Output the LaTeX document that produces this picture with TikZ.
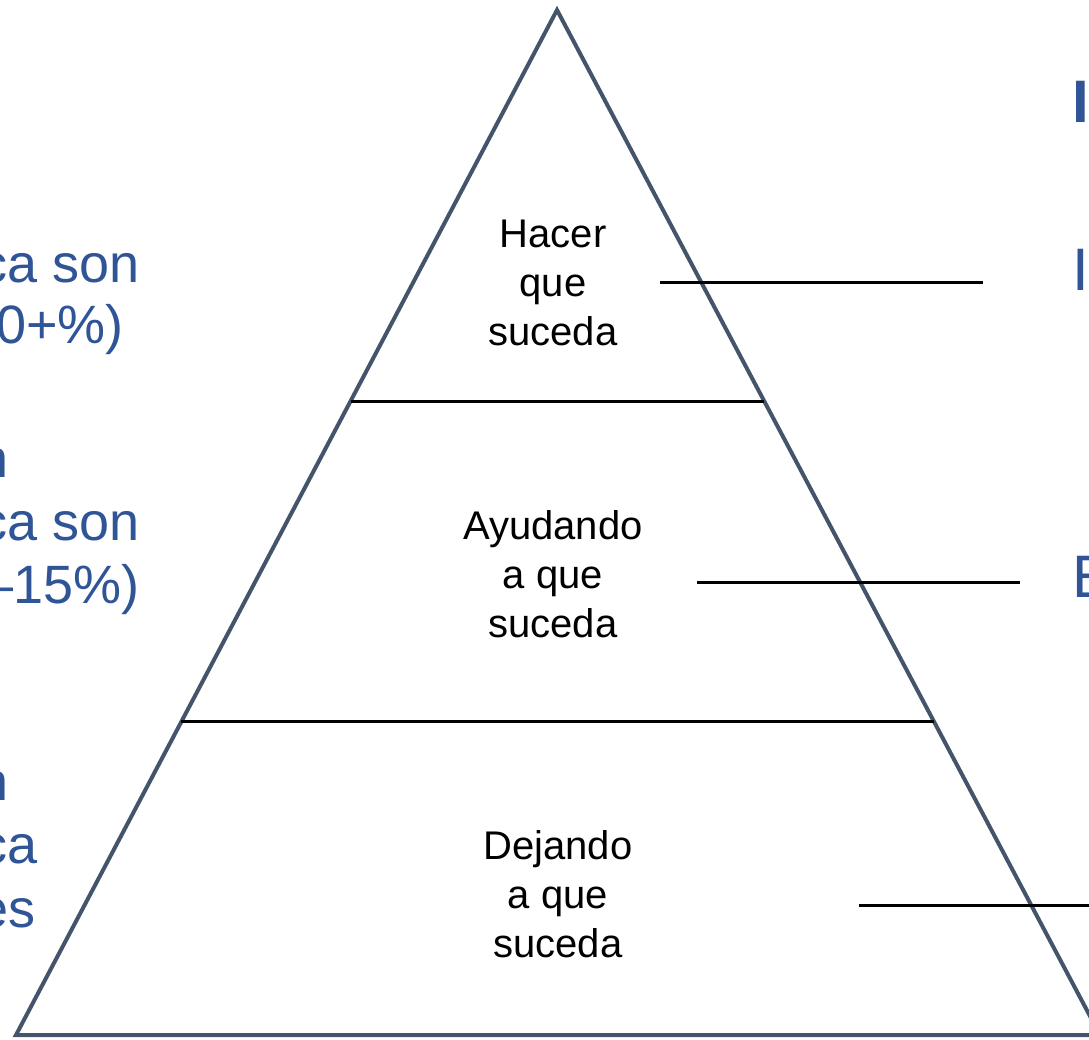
\documentclass[tikz,border=0pt]{standalone}
\usepackage{fontspec}
\setmainfont{Liberation Sans}
\usepackage{xcolor}
\usetikzlibrary{positioning,calc}

\definecolor{levelblue}{HTML}{2F5597}
\definecolor{pyramidgray}{HTML}{44546A}

\begin{document}
\begin{tikzpicture}[x=1pt,y=-1pt,
    sidetext/.style={inner sep=0pt, text=levelblue, font=\fontsize{54}{62}\selectfont},
    righttext/.style={inner sep=0pt, text=levelblue, anchor=base west, font=\fontsize{60}{66}\selectfont},
    leveltext/.style={inner sep=0pt, align=center, anchor=base, font=\fontsize{40}{49}\selectfont},
    divider/.style={line width=3pt, black},
    pointer/.style={line width=3pt, black}]
    \useasboundingbox (0,0) rectangle (1089,1039);
    \clip (0,0) rectangle (1089,1039);

    % Pyramid outline
    \coordinate (apex) at (557,10);
    \coordinate (bl) at (16,1035);
    \coordinate (br) at (1100,1035);
    \draw[line width=4pt, pyramidgray, line join=miter] (apex) -- (bl) -- (br) -- cycle;

    % Level dividers
    \draw[divider] ($(apex)!0.3815!(bl)$) -- ($(apex)!0.3815!(br)$);
    \draw[divider] ($(apex)!0.6946!(bl)$) -- ($(apex)!0.6946!(br)$);

    % Level labels (base = last line)
    \node[leveltext] (hacer) at (553,345) {Hacer\\que\\suceda};
    \node[leveltext] (ayudando) at (553,637) {Ayudando\\a que\\suceda};
    \node[leveltext] (dejando) at (558,957) {Dejando\\a que\\suceda};

    % Pointers to the right
    \coordinate (p1a) at (660,282);  \coordinate (p1b) at (983,282);
    \coordinate (p2a) at (697,582);  \coordinate (p2b) at (1020,582);
    \coordinate (p3a) at (859,905);  \coordinate (p3b) at (1100,905);
    \draw[pointer] (p1a) -- (p1b);
    \draw[pointer] (p2a) -- (p2b);
    \draw[pointer] (p3a) -- (p3b);

    % Right column (cut off)
    \node[righttext, font=\fontsize{60}{66}\selectfont\bfseries] (head) at (1072,122) {I};
    \node[righttext] (r1) at (1072,290) {I};
    \node[righttext] (r2) at (1072,597) {E};

    % Left column (cut off)
    \node[sidetext, anchor=base east] (l1a) at (140,282) {ca son};
    \node[sidetext, anchor=base east] (l1b) at (124,343) {0+\%)};
    \node[sidetext, anchor=base east] (l2a) at (9,477) {n};
    \node[sidetext, anchor=base east] (l2b) at (140,540) {ca son};
    \node[sidetext, anchor=base east] (l2c) at (140,603) {–15\%)};
    \node[sidetext, anchor=base east] (l3a) at (9,800) {n};
    \node[sidetext, anchor=base east] (l3b) at (38,863) {ca};
    \node[sidetext, anchor=base east] (l3c) at (36,927) {es};
\end{tikzpicture}
\end{document}
